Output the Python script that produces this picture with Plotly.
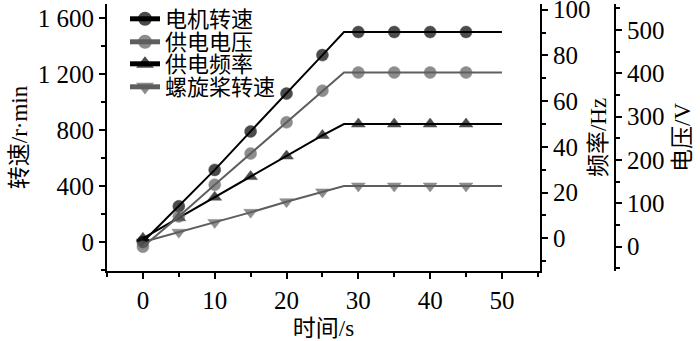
import plotly.graph_objects as go

# ---- data ----
time_s = [0, 5, 10, 15, 20, 25, 28, 30, 35, 40, 45, 50]
marker_times = [0, 5, 10, 15, 20, 25, 30, 35, 40, 45]
motor_speed = [0, 255, 515, 790, 1060, 1335, 1500, 1500, 1500, 1500, 1500, 1500]      # r/min
supply_voltage = [0, 70, 143, 215, 287, 360, 402, 402, 402, 402, 402, 402]            # V
supply_freq = [0, 9, 18, 27, 36, 45, 50, 50, 50, 50, 50, 50]                          # Hz
prop_speed = [0, 70, 140, 212, 288, 358, 400, 400, 400, 400, 400, 400]                # r/min

series_names = ["电机转速", "供电电压", "供电频率", "螺旋桨转速"]
left_tickvals = [0, 400, 800, 1200, 1600]
left_ticktext = ["0", "400", "800", "1 200", "1 600"]
freq_tickvals = [0, 20, 40, 60, 80, 100]
volt_tickvals = [0, 100, 200, 300, 400, 500]
x_tickvals = [0, 10, 20, 30, 40, 50]

# ---- styling ----
W, H = 700, 341
ML, MR, MT, MB = 107, 80, 4, 70
plot_w = W - ML - MR
x_frac = (540 - ML) / plot_w
v_pos = (615 - ML) / plot_w
plot_h = H - MT - MB

SERIF = "Liberation Serif, Noto Sans CJK SC"
BLACK = "#000000"
GRAY = "#5e5e5e"
MS = 12
sizes = [MS if t in marker_times else 0 for t in time_s]

fig = go.Figure()

def add(y, name, color, symbol, yaxis, legend):
    fig.add_trace(go.Scatter(
        x=time_s, y=y, name=name, mode="lines+markers",
        line=dict(color=color, width=2),
        marker=dict(color=color, symbol=symbol, size=sizes, line=dict(width=0.5, color=color)),
        yaxis=yaxis, legend=legend, cliponaxis=False,
    ))

add(prop_speed, series_names[3], GRAY, "triangle-down", "y", "legend4")
add(supply_freq, series_names[2], BLACK, "triangle-up", "y2", "legend3")
add(supply_voltage, series_names[1], GRAY, "circle", "y3", "legend2")
add(motor_speed, series_names[0], BLACK, "circle", "y", "legend")

axis_common = dict(
    showline=True, linecolor=BLACK, linewidth=2, ticks="outside", ticklen=6,
    tickwidth=2, tickcolor=BLACK, showgrid=False, zeroline=False, automargin=False,
    ticklabeloverflow="allow",
    tickfont=dict(family=SERIF, size=25, color=BLACK),
)
title_font = dict(family=SERIF, size=23, color=BLACK)

def legend_at(py):
    return dict(
        x=(125 - ML) / plot_w, xanchor="left",
        y=(H - MB - py) / plot_h, yanchor="middle",
        bgcolor="rgba(0,0,0,0)", borderwidth=0, itemsizing="constant",
        font=dict(family=SERIF, size=22, color=BLACK), tracegroupgap=0,
    )

fig.update_layout(
    width=W, height=H,
    margin=dict(l=ML, r=MR, t=MT, b=MB, autoexpand=False),
    paper_bgcolor="white", plot_bgcolor="white",
    showlegend=True,
    legend=legend_at(19),
    legend2=legend_at(42),
    legend3=legend_at(64),
    legend4=legend_at(87),
    xaxis=dict(
        **axis_common, domain=[0, x_frac], range=[-5, 55.3],
        tickvals=x_tickvals,
        minor=dict(dtick=5, tick0=0, ticks="outside", ticklen=4, tickwidth=2, tickcolor=BLACK),
        title=dict(text="时间/s", font=title_font, standoff=8),
    ),
    yaxis=dict(
        **axis_common, range=[-207, 1700],
        tickmode="array", tickvals=left_tickvals, ticktext=left_ticktext,
        minor=dict(tickmode="linear", dtick=200, tick0=0, ticks="outside", ticklen=4, tickwidth=2, tickcolor=BLACK),
        title=dict(text="转速/r·min", font=title_font, standoff=4),
    ),
    yaxis2=dict(
        **axis_common, overlaying="y", side="right", anchor="x",
        range=[-14.3, 102.5], tickvals=freq_tickvals,
        minor=dict(dtick=10, tick0=0, ticks="outside", ticklen=4, tickwidth=2, tickcolor=BLACK),
        title=dict(text="频率/Hz", font=title_font, standoff=0),
    ),
    yaxis3=dict(
        **axis_common, overlaying="y", side="right", anchor="free", position=v_pos,
        range=[-56, 560], tickvals=volt_tickvals,
        minor=dict(dtick=50, tick0=0, ticks="outside", ticklen=4, tickwidth=2, tickcolor=BLACK),
        title=dict(text="电压/V", font=title_font, standoff=9),
    ),
)

fig.write_html("out.html", config={"displayModeBar": False},
               post_script="document.body.style.margin='0';")
